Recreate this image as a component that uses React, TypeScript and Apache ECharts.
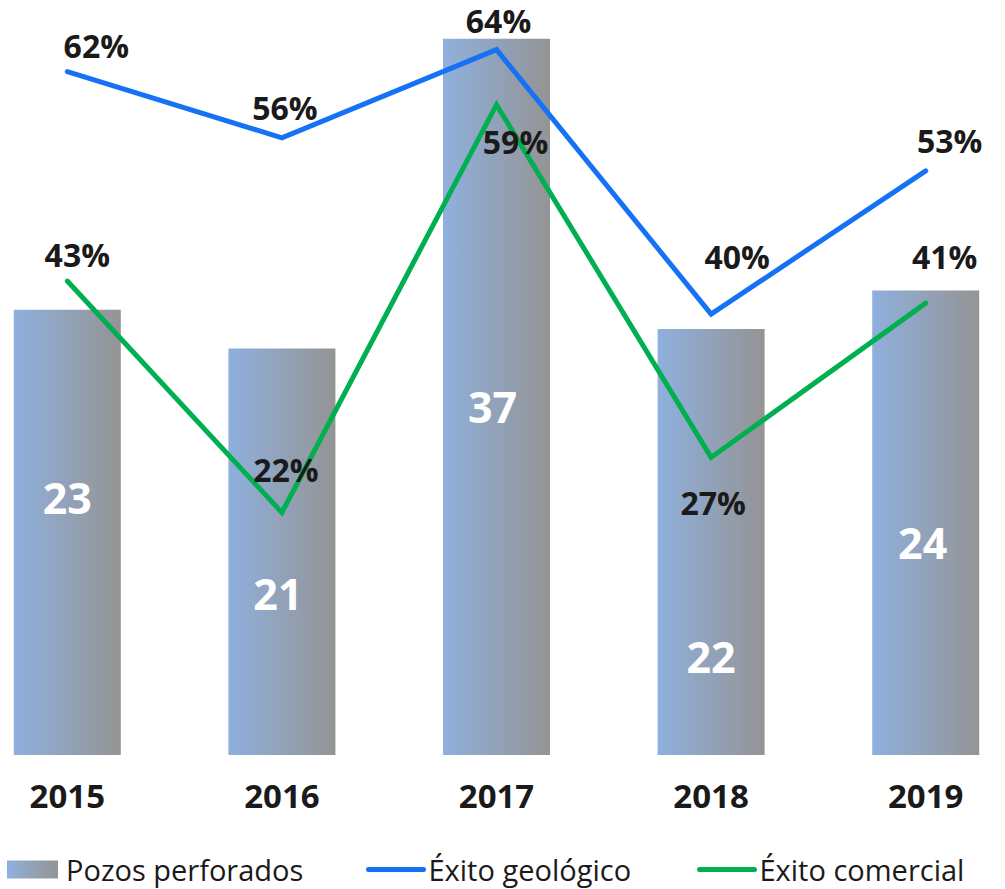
import React, { useEffect, useRef } from "react";
import * as echarts from "echarts";

const years = ["2015", "2016", "2017", "2018", "2019"];
const pozosPerforados = [23, 21, 37, 22, 24];
const exitoGeologico = [62, 56, 64, 40, 53];
const exitoComercial = [43, 22, 59, 27, 41];

// label placement (style only)
const barLabelOffsets = [[0, -35], [-4, 42], [-4, 10], [0, 114], [-3, 20]];
const geoLabelOffsets = [[29, -26], [3, -30], [2, -29], [26, -58], [24, -30]];
const comLabelOffsets = [[10, -27], [4, -43], [19, 37], [2, 45], [19, -47]];

const FONT = "'Open Sans', 'DejaVu Sans', sans-serif";
const TEXT = "#1a1a1a";
const BLUE = "#1672f5";
const GREEN = "#00b050";

export default function App() {
  const ref = useRef<HTMLDivElement>(null);
  useEffect(() => {
    if (!ref.current) return;
    const chart = echarts.init(ref.current, undefined, { renderer: "svg" });
    const barGradient = new echarts.graphic.LinearGradient(0, 0, 1, 0, [
      { offset: 0, color: "#8fb0dd" },
      { offset: 1, color: "#949494" },
    ]);
    const lineLabel = (offs: number[][]) => (v: number, i: number) => ({
      value: v,
      label: { offset: offs[i] },
    });
    const legendText = { fontFamily: FONT, fontSize: 29, color: TEXT };
    chart.setOption({
      animation: false,
      textStyle: { fontFamily: FONT },
      grid: { left: 0, right: 0, top: 0, bottom: 134, containLabel: false },
      legend: [
        {
          left: 42,
          top: 850,
          itemWidth: 51,
          itemHeight: 18,
          textStyle: { ...legendText, padding: [0, 0, 0, 3] },
          data: [{ name: "Pozos perforados", icon: "rect" }],
        },
        {
          left: 401,
          top: 850,
          itemWidth: 55,
          itemHeight: 18,
          textStyle: legendText,
          lineStyle: { width: 5, cap: "round" },
          data: [{ name: "Éxito geológico", itemStyle: { opacity: 0 } }],
        },
        {
          left: 732,
          top: 850,
          itemWidth: 55,
          itemHeight: 18,
          textStyle: legendText,
          lineStyle: { width: 5, cap: "round" },
          data: [{ name: "Éxito comercial", itemStyle: { opacity: 0 } }],
        },
      ],
      xAxis: {
        type: "category",
        data: years,
        axisLine: { show: false },
        axisTick: { show: false },
        axisLabel: {
          margin: 24,
          fontFamily: FONT,
          fontSize: 33,
          fontWeight: "bold",
          color: TEXT,
        },
      },
      yAxis: [
        { type: "value", min: 0, max: 39, show: false },
        { type: "value", min: 0, max: 68.5, show: false },
      ],
      series: [
        {
          name: "Pozos perforados",
          type: "bar",
          barWidth: 107,
          itemStyle: { color: barGradient },
          data: pozosPerforados.map((v, i) => ({
            value: v,
            label: { offset: barLabelOffsets[i] },
          })),
          label: {
            show: true,
            position: "inside",
            color: "#ffffff",
            fontFamily: FONT,
            fontSize: 43,
            fontWeight: "bold",
          },
          z: 1,
        },
        {
          name: "Éxito geológico",
          type: "line",
          yAxisIndex: 1,
          data: exitoGeologico.map(lineLabel(geoLabelOffsets)),
          symbol: "circle",
          symbolSize: 0.1,
          itemStyle: { color: BLUE },
          lineStyle: { color: BLUE, width: 5, cap: "round", join: "miter" },
          label: {
            show: true,
            position: "inside",
            formatter: "{c}%",
            color: TEXT,
            fontFamily: FONT,
            fontSize: 32,
            fontWeight: "bold",
          },
          z: 3,
        },
        {
          name: "Éxito comercial",
          type: "line",
          yAxisIndex: 1,
          data: exitoComercial.map(lineLabel(comLabelOffsets)),
          symbol: "circle",
          symbolSize: 0.1,
          itemStyle: { color: GREEN },
          lineStyle: { color: GREEN, width: 5, cap: "round", join: "miter" },
          label: {
            show: true,
            position: "inside",
            formatter: "{c}%",
            color: TEXT,
            fontFamily: FONT,
            fontSize: 32,
            fontWeight: "bold",
          },
          z: 2,
        },
      ],
    });
    return () => chart.dispose();
  }, []);
  return (
    <div
      style={{
        position: "absolute",
        left: 0,
        top: 0,
        width: 1005,
        height: 889,
        overflow: "hidden",
        background: "#ffffff",
      }}
    >
      <div
        ref={ref}
        style={{ position: "absolute", left: -40, top: 0, width: 1073, height: 889 }}
      />
    </div>
  );
}
